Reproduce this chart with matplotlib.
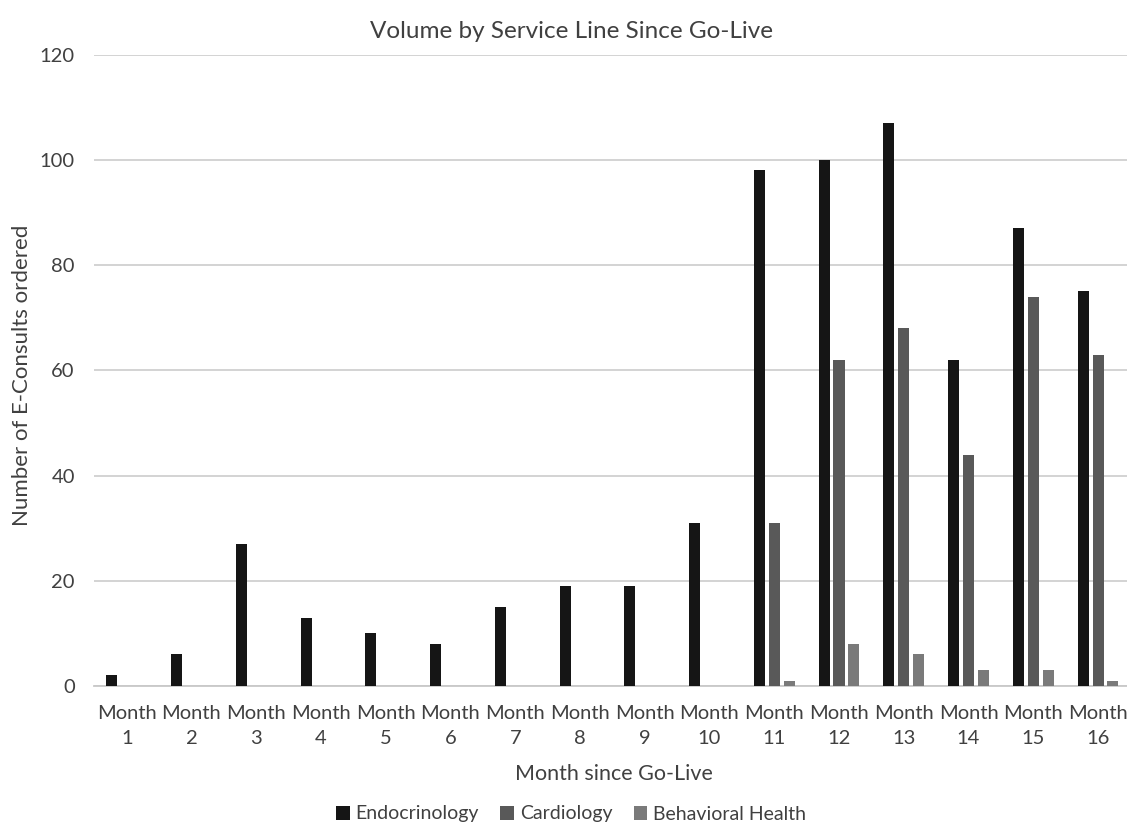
import matplotlib.pyplot as plt
import numpy as np

months = [f"Month\n{i}" for i in range(1, 17)]
endocrinology = [2, 6, 27, 13, 10, 8, 15, 19, 19, 31, 98, 100, 107, 62, 87, 75]
cardiology = [0, 0, 0, 0, 0, 0, 0, 0, 0, 0, 31, 62, 68, 44, 74, 63]
behavioral = [0, 0, 0, 0, 0, 0, 0, 0, 0, 0, 1, 8, 6, 3, 3, 1]

plt.rcParams['font.family'] = ['Lato', 'DejaVu Sans']
text_color = "#404040"

fig = plt.figure(figsize=(11.27, 8.25), dpi=100)
W, H = 1127, 825
left, right, top, bottom = 94.3, 1130.4, 54.7, 686
ax = fig.add_axes([left / W, 1 - bottom / H, (right - left) / W, (bottom - top) / H])

x = np.arange(len(months))
w = 0.17
off = 0.228
ax.bar(x - off, endocrinology, w, color="#151515", label="Endocrinology", zorder=3)
ax.bar(x, cardiology, w, color="#595959", label="Cardiology", zorder=3)
ax.bar(x + off, behavioral, w, color="#7a7a7a", label="Behavioral Health", zorder=3)

ax.set_xlim(-0.5, 15.5)
ax.set_ylim(0, 120)
ax.set_yticks(range(0, 121, 20))
ax.yaxis.grid(True, color="#d0d0d0", linewidth=1.3, zorder=0)
for s in ["top", "right", "left"]:
    ax.spines[s].set_visible(False)
ax.spines["bottom"].set_color("#c8c8c8")
ax.spines["bottom"].set_linewidth(1.3)
ax.tick_params(length=0, labelsize=14.5, colors=text_color)
ax.tick_params(axis="y", pad=14)
ax.tick_params(axis="x", pad=14)
ax.set_xticks(x)
ax.set_xticklabels(months, linespacing=1.55)

fig.text(572 / W, 1 - 31 / H, "Volume by Service Line Since Go-Live", ha="center", va="center",
         fontsize=17.5, color=text_color)
fig.text(614 / W, 1 - 774 / H, "Month since Go-Live", ha="center", va="center",
         fontsize=15.5, color=text_color)
fig.text(22 / W, 1 - 375 / H, "Number of E-Consults ordered", ha="center", va="center",
         rotation=90, fontsize=16, color=text_color)

fig.legend(loc="center", bbox_to_anchor=(571 / W, 1 - 814 / H), ncol=3, frameon=False,
           fontsize=14, handlelength=0.7, handleheight=0.7, handletextpad=0.3,
           columnspacing=1.1, labelcolor=text_color)

fig.savefig("out.png", dpi=100)
